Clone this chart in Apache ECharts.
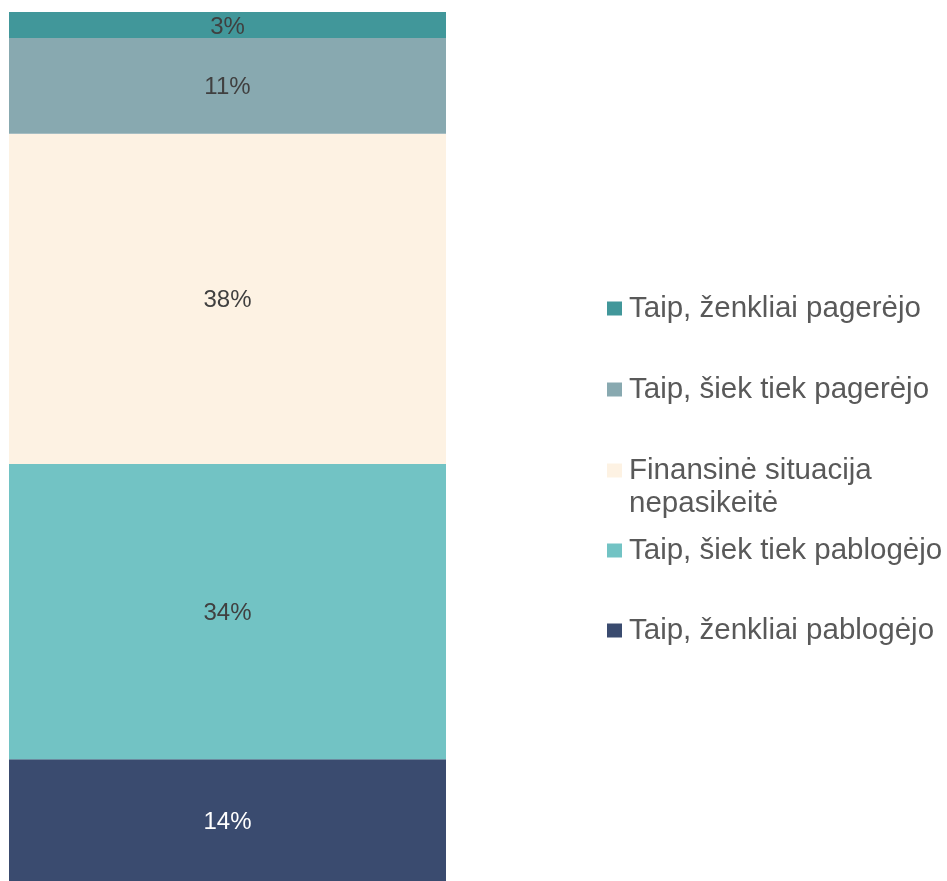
<!DOCTYPE html>
<html>
<head>
<meta charset="utf-8">
<script src="https://cdn.jsdelivr.net/npm/echarts@6/dist/echarts.min.js"></script>
<style>
  html, body { margin: 0; padding: 0; background: #ffffff; }
  #chart { width: 947px; height: 881px; }
</style>
</head>
<body>
<div id="chart"></div>
<script>
// Stacked shares, listed from the bottom segment upward
const seriesNames = [
  'Taip, ženkliai pablogėjo',
  'Taip, šiek tiek pablogėjo',
  'Finansinė situacija nepasikeitė',
  'Taip, šiek tiek pagerėjo',
  'Taip, ženkliai pagerėjo'
];
const seriesValues = [14, 34, 38, 11, 3];
const seriesColors = ['#3A4B6F', '#72C3C4', '#FDF2E3', '#88A9B0', '#41979A'];
const labelColors = ['#ffffff', '#404040', '#404040', '#404040', '#404040'];
const categories = [''];

// Legend listed top-down, with the vertical centre of each marker
const legendOrder = [4, 3, 2, 1, 0];
const legendCenters = [308, 389, 470, 550, 630];

const FONT = '"Liberation Sans", Arial, sans-serif';
const LINE_H = 33;

const legends = legendOrder.map((idx, i) => {
  const twoLines = seriesNames[idx].indexOf('situacija') >= 0;
  // the wrapped entry gets an empty first line so its marker sits beside the first text line
  const boxH = twoLines ? LINE_H * 3 : LINE_H;
  return {
    data: [{ name: seriesNames[idx] }],
    left: 607,
    top: Math.round(legendCenters[i] - boxH / 2),
    padding: 0,
    itemWidth: 15,
    itemHeight: 14,
    icon: 'rect',
    formatter: (name) => twoLines ? ' \n' + name.replace('situacija ', 'situacija\n') : name,
    textStyle: {
      fontFamily: FONT,
      fontSize: 29.5,
      lineHeight: LINE_H,
      color: '#595959',
      padding: [0, 0, 0, 2]
    }
  };
});

const chart = echarts.init(document.getElementById('chart'), null, { renderer: 'canvas' });
chart.setOption({
  animation: false,
  backgroundColor: '#ffffff',
  grid: { left: 9, right: 501, top: 12, bottom: 0, containLabel: false },
  xAxis: {
    type: 'category',
    data: categories,
    show: false
  },
  yAxis: {
    type: 'value',
    min: 0,
    max: 100,
    show: false
  },
  legend: legends,
  series: seriesNames.map((name, i) => ({
    name: name,
    type: 'bar',
    stack: 'total',
    barWidth: '100%',
    barCategoryGap: 0,
    data: [seriesValues[i]],
    itemStyle: { color: seriesColors[i] },
    label: {
      show: true,
      position: 'inside',
      offset: [0, 2],
      formatter: (p) => p.value + '%',
      fontFamily: FONT,
      fontSize: 24,
      color: labelColors[i]
    }
  }))
});
</script>
</body>
</html>
